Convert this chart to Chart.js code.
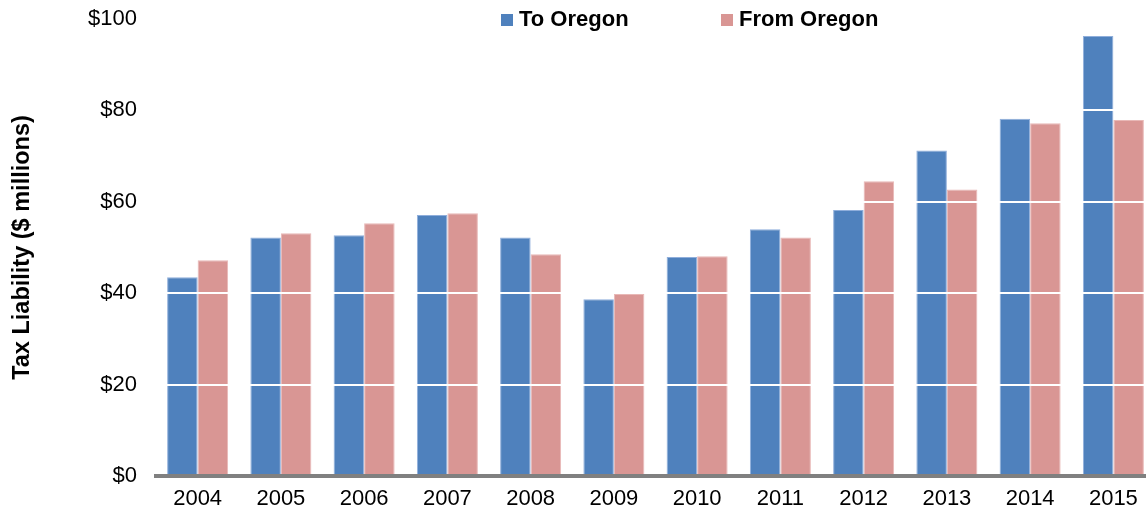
<!DOCTYPE html>
<html>
<head>
<meta charset="utf-8">
<script src="https://cdn.jsdelivr.net/npm/chart.js@4.4.1/dist/chart.umd.min.js"></script>
<style>
  html, body { margin: 0; padding: 0; background: #fff; overflow: hidden; }
  #wrap { width: 1155px; height: 514px; }
</style>
</head>
<body>
<div id="wrap"><canvas id="c" width="1155" height="514"></canvas></div>
<script>
const categories = ["2004","2005","2006","2007","2008","2009","2010","2011","2012","2013","2014","2015"];
const toOregon   = [43.5, 52.2, 52.7, 57.1, 52.2, 38.7, 47.9, 54.0, 58.2, 71.2, 78.2, 96.3];
const fromOregon = [47.2, 53.1, 55.3, 57.5, 48.5, 39.8, 48.1, 52.2, 64.5, 62.7, 77.2, 77.9];
const yTicks = [0, 20, 40, 60, 80, 100];
const seriesNames = ["To Oregon", "From Oregon"];
const yTitle = "Tax Liability ($ millions)";

const FONT = "'Liberation Sans', Arial, sans-serif";

const legendPlugin = {
  id: 'customLegend',
  afterDraw(chart) {
    const ctx = chart.ctx;
    ctx.save();
    ctx.font = "bold 22px " + FONT;
    ctx.textBaseline = 'middle';
    ctx.textAlign = 'left';
    const starts = [501, 721];
    chart.data.datasets.forEach((ds, i) => {
      const x = starts[i];
      ctx.fillStyle = ds.backgroundColor;
      ctx.fillRect(x, 14, 12, 12);
      ctx.fillStyle = '#000';
      ctx.fillText(ds.label, x + 18, 20);
    });
    ctx.restore();
  }
};

new Chart(document.getElementById('c'), {
  type: 'bar',
  data: {
    labels: categories,
    datasets: [
      { label: seriesNames[0], data: toOregon, backgroundColor: '#4F81BD', borderColor: '#8FAEDB', borderWidth: 1, categoryPercentage: 0.733, barPercentage: 1.0 },
      { label: seriesNames[1], data: fromOregon, backgroundColor: '#D99694', borderColor: '#E8B8B6', borderWidth: 1, categoryPercentage: 0.733, barPercentage: 1.0 }
    ]
  },
  options: {
    responsive: false,
    animation: false,
    devicePixelRatio: 1,
    layout: { padding: { top: 19, right: 0, left: 0, bottom: 0 } },
    plugins: { legend: { display: false }, tooltip: { enabled: false } },
    scales: {
      x: {
        grid: { display: false, drawTicks: false },
        border: { display: true, color: '#808080', width: 4, z: 3 },
        ticks: { color: '#000', font: { family: FONT, size: 22 }, padding: 10, maxRotation: 0 },
        afterFit(scale) { scale.height = 38; scale.paddingLeft = 0; scale.paddingRight = 0; }
      },
      y: {
        min: 0, max: 100,
        afterBuildTicks(scale) { scale.ticks = yTicks.map(v => ({ value: v })); },
        grid: {
          z: 1,
          drawTicks: false,
          color: ctx => (ctx.tick && ctx.tick.value === 0) ? 'rgba(0,0,0,0)' : '#ffffff',
          lineWidth: 2
        },
        border: { display: false },
        ticks: {
          color: '#000', font: { family: FONT, size: 22 }, padding: 19,
          callback: v => '$' + v
        },
        title: { display: true, text: yTitle, color: '#000', font: { family: FONT, size: 23.5, weight: 'bold' }, padding: { top: 8, bottom: 0 } },
        afterFit(scale) { scale.width = 156; scale.paddingTop = 0; scale.paddingBottom = 0; }
      }
    }
  },
  plugins: [legendPlugin]
});
</script>
</body>
</html>
